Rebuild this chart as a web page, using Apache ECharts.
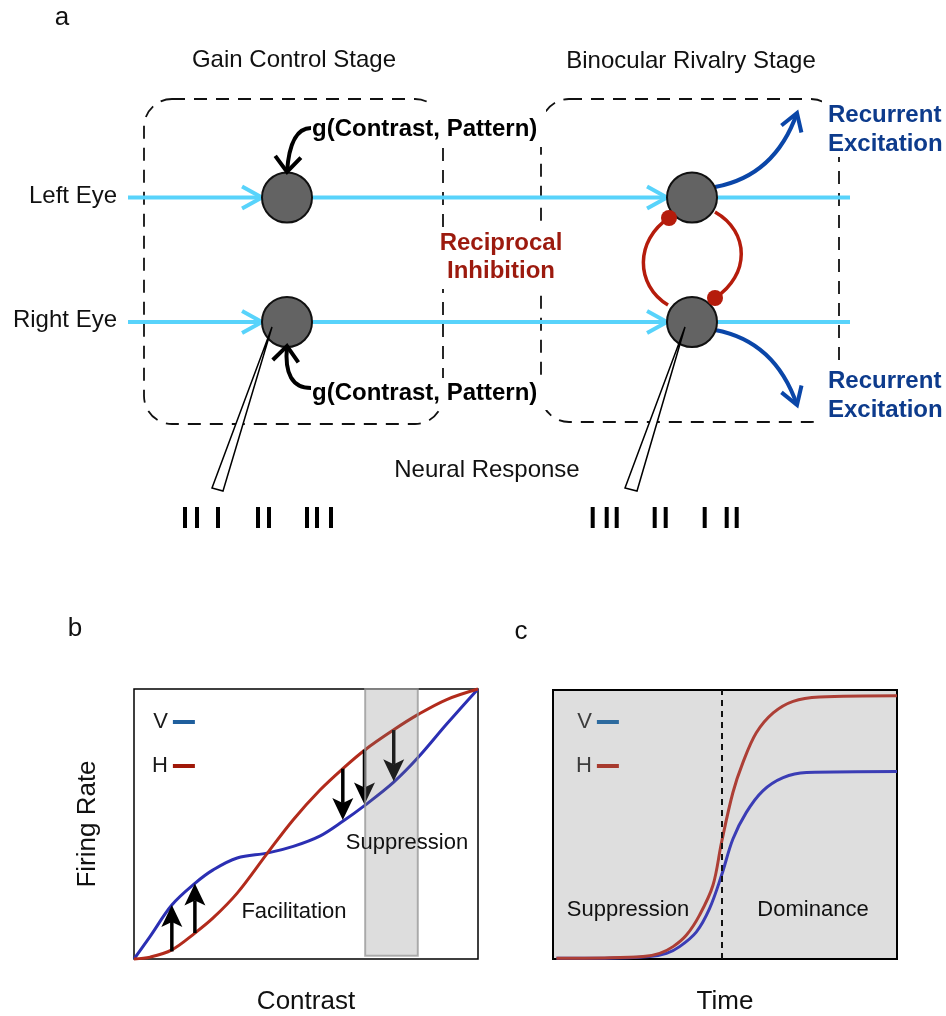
<!DOCTYPE html>
<html>
<head>
<meta charset="utf-8">
<script src="https://cdn.jsdelivr.net/npm/echarts/dist/echarts.min.js"></script>
<style>
  html, body { margin: 0; padding: 0; background: #fff; }
  #chart { width: 946px; height: 1016px; }
</style>
</head>
<body>
<div id="chart"></div>
<script>
// ---- Panel b: steady-state firing rate against contrast ----
const bContrastV = [0, 0.047, 0.11, 0.177, 0.23, 0.30, 0.39, 0.463, 0.54, 0.607, 0.67, 0.755, 0.825, 0.909, 1];
const bRateV     = [0, 0.084, 0.20, 0.28, 0.33, 0.374, 0.393, 0.417, 0.455, 0.51, 0.568, 0.655, 0.745, 0.87, 1];
const bContrastH = [0, 0.047, 0.11, 0.177, 0.23, 0.30, 0.39, 0.463, 0.54, 0.607, 0.672, 0.754, 0.825, 0.909, 1];
const bRateH     = [0, 0.007, 0.034, 0.096, 0.152, 0.244, 0.396, 0.516, 0.625, 0.705, 0.775, 0.848, 0.905, 0.961, 1];

// facilitation (up) and suppression (down) arrows: contrast, start rate, end rate
const bArrowX    = [0.11, 0.177, 0.607, 0.67, 0.755];
const bArrowFrom = [0.028, 0.096, 0.705, 0.775, 0.848];
const bArrowTo   = [0.20, 0.28, 0.515, 0.572, 0.658];

// suppression contrast range: [contrast from, contrast to, rate from, rate to]
const bBand = [0.672, 0.825, 0.012, 1];

// ---- Panel c: firing rate over time ----
const cTimeH = [0.01, 0.15, 0.262, 0.31, 0.349, 0.388, 0.426, 0.465, 0.49, 0.523, 0.552, 0.591, 0.64, 0.698, 0.775, 1];
const cRateH = [0.003, 0.004, 0.009, 0.021, 0.046, 0.089, 0.163, 0.274, 0.434, 0.619, 0.73, 0.841, 0.915, 0.958, 0.974, 0.979];
const cTimeV = [0.01, 0.15, 0.281, 0.33, 0.368, 0.417, 0.455, 0.49, 0.523, 0.562, 0.61, 0.669, 0.737, 1];
const cRateV = [0.003, 0.003, 0.009, 0.021, 0.046, 0.101, 0.187, 0.311, 0.446, 0.545, 0.625, 0.674, 0.693, 0.697];
const cSwitchTime = 0.49;

// ---- Panel a: recorded spike times (ms) ----
const spikesGain    = [0, 12, 33, 73, 84, 122, 132, 146];
const spikesRivalry = [0, 14, 24, 62, 73, 112, 134, 144];

const FONT = "'Liberation Sans', Arial, Helvetica, sans-serif";
const zip = (xs, ys) => xs.map((x, i) => [x, ys[i]]);

function hiddenAxis(gridIndex, min, max, extra) {
  return Object.assign({
    type: 'value', gridIndex, min, max,
    axisLine: { show: false }, axisTick: { show: false },
    axisLabel: { show: false }, splitLine: { show: false }
  }, extra || {});
}

function headPts(tip, dx, dy, len, halfDeg) {
  const a = Math.atan2(dy, dx) + Math.PI;
  const h = halfDeg * Math.PI / 180;
  return [
    [tip[0] + len * Math.cos(a + h), tip[1] + len * Math.sin(a + h)],
    tip,
    [tip[0] + len * Math.cos(a - h), tip[1] + len * Math.sin(a - h)]
  ];
}

function label(text, x, y, size, opts) {
  opts = opts || {};
  return {
    type: 'text', z: opts.z || 20,
    style: {
      text, x, y,
      font: (opts.weight || 'normal') + ' ' + size + 'px ' + FONT,
      fill: opts.color || '#111',
      textAlign: opts.align || 'center',
      textVerticalAlign: 'middle'
    }
  };
}

// ---- schematic of the two-stage model ----
const CYAN = '#58d3fb', CELL = '#636363', INHIB = '#b51c0c', EXC = '#0a46a8';
const rowTop = 197.5, rowBot = 322;
const cellL = 287, cellR = 692, cellRad = 25;
const g = [];

// stage boxes
g.push({ type: 'rect', z: 1, shape: { x: 144, y: 99, width: 299, height: 325, r: 28 },
  style: { fill: 'none', stroke: '#111', lineWidth: 1.8, lineDash: [13, 9] } });
g.push({ type: 'rect', z: 1, shape: { x: 541, y: 99, width: 298, height: 323, r: 28 },
  style: { fill: 'none', stroke: '#111', lineWidth: 1.8, lineDash: [13, 9] } });
// label backing
[[432, 95, 114, 52], [436, 378, 112, 32], [437, 229, 129, 60], [822, 95, 124, 62], [818, 366, 128, 62]]
  .forEach(r => g.push({ type: 'rect', z: 2, shape: { x: r[0], y: r[1], width: r[2], height: r[3] }, style: { fill: '#fff' } }));

// eye input lines
[rowTop, rowBot].forEach(y => {
  g.push({ type: 'polyline', z: 3, shape: { points: [[128, y], [850, y]] }, style: { stroke: CYAN, lineWidth: 4, fill: 'none' } });
  [cellL, cellR].forEach(cx => {
    g.push({ type: 'polyline', z: 4, shape: { points: headPts([cx - cellRad, y], 1, 0, 22.8, 29) },
      style: { stroke: CYAN, lineWidth: 4, fill: 'none', lineJoin: 'miter' } });
  });
});

// reciprocal inhibition loop
g.push({ type: 'bezierCurve', z: 4, shape: { x1: 668, y1: 305, cpx1: 635, cpy1: 285, cpx2: 635, cpy2: 240, x2: 669, y2: 218 },
  style: { stroke: INHIB, lineWidth: 3.5, fill: 'none' } });
g.push({ type: 'bezierCurve', z: 4, shape: { x1: 715, y1: 212, cpx1: 750, cpy1: 232, cpx2: 750, cpy2: 275, x2: 715, y2: 298 },
  style: { stroke: INHIB, lineWidth: 3.5, fill: 'none' } });

// recurrent excitation arrows
g.push({ type: 'bezierCurve', z: 4, shape: { x1: 715, y1: 187, cpx1: 775, cpy1: 176, x2: 797, y2: 113 },
  style: { stroke: EXC, lineWidth: 4, fill: 'none' } });
g.push({ type: 'polyline', z: 6, shape: { points: headPts([797, 113], 22, -63, 20, 32) },
  style: { stroke: EXC, lineWidth: 4, fill: 'none' } });
g.push({ type: 'bezierCurve', z: 4, shape: { x1: 715, y1: 330, cpx1: 775, cpy1: 341, x2: 797, y2: 405 },
  style: { stroke: EXC, lineWidth: 4, fill: 'none' } });
g.push({ type: 'polyline', z: 6, shape: { points: headPts([797, 405], 22, 64, 20, 32) },
  style: { stroke: EXC, lineWidth: 4, fill: 'none' } });

// cells
[[cellL, rowTop], [cellL, rowBot], [cellR, rowTop], [cellR, rowBot]].forEach(c => {
  g.push({ type: 'circle', z: 5, shape: { cx: c[0], cy: c[1], r: cellRad }, style: { fill: CELL, stroke: '#111', lineWidth: 2 } });
});

// inhibitory synapses
[[669, 218], [715, 298]].forEach(p => {
  g.push({ type: 'circle', z: 6, shape: { cx: p[0], cy: p[1], r: 8 }, style: { fill: INHIB } });
});

// gain control inputs
g.push({ type: 'bezierCurve', z: 6, shape: { x1: 311, y1: 128, cpx1: 290, cpy1: 128, x2: 287, y2: 172 },
  style: { stroke: '#000', lineWidth: 4, fill: 'none' } });
g.push({ type: 'polyline', z: 6, shape: { points: headPts([287, 172], -3, 44, 20, 40) },
  style: { stroke: '#000', lineWidth: 4, fill: 'none' } });
g.push({ type: 'bezierCurve', z: 6, shape: { x1: 311, y1: 388, cpx1: 283, cpy1: 388, x2: 287, y2: 346 },
  style: { stroke: '#000', lineWidth: 4, fill: 'none' } });
g.push({ type: 'polyline', z: 6, shape: { points: headPts([287, 346], 4, -42, 20, 40) },
  style: { stroke: '#000', lineWidth: 4, fill: 'none' } });

// recording electrodes
g.push({ type: 'polygon', z: 7, shape: { points: [[272, 327], [212, 488], [223, 491]] },
  style: { fill: '#fff', stroke: '#000', lineWidth: 1.5 } });
g.push({ type: 'polygon', z: 7, shape: { points: [[685, 327], [625, 488], [637, 491]] },
  style: { fill: '#fff', stroke: '#000', lineWidth: 1.5 } });

// text of the schematic
g.push(label('a', 62, 18, 26));
g.push(label('Gain Control Stage', 294, 60, 24));
g.push(label('Binocular Rivalry Stage', 691, 61, 24));
g.push(label('Left Eye', 117, 196, 24, { align: 'right' }));
g.push(label('Right Eye', 117, 320, 24, { align: 'right' }));
g.push(label('g(Contrast, Pattern)', 312, 129, 24, { align: 'left', weight: 'bold', color: '#000' }));
g.push(label('g(Contrast, Pattern)', 312, 393, 24, { align: 'left', weight: 'bold', color: '#000' }));
g.push(label('Reciprocal', 501, 243, 24, { weight: 'bold', color: '#9c1a0e' }));
g.push(label('Inhibition', 501, 271, 24, { weight: 'bold', color: '#9c1a0e' }));
g.push(label('Recurrent', 828, 115, 24, { align: 'left', weight: 'bold', color: '#0d3b8c' }));
g.push(label('Excitation', 828, 144, 24, { align: 'left', weight: 'bold', color: '#0d3b8c' }));
g.push(label('Recurrent', 828, 381, 24, { align: 'left', weight: 'bold', color: '#0d3b8c' }));
g.push(label('Excitation', 828, 410, 24, { align: 'left', weight: 'bold', color: '#0d3b8c' }));
g.push(label('Neural Response', 487, 470, 24));

// panel letters and region annotations
g.push(label('b', 75, 629, 26));
g.push(label('c', 521, 632, 26));
g.push(label('Facilitation', 294, 912, 22));
g.push(label('Suppression', 407, 843, 22));
g.push(label('Suppression', 628, 910, 22));
g.push(label('Dominance', 813, 910, 22));

// ---- custom renderers ----
function renderArrow(params, api) {
  const p0 = api.coord([api.value(0), api.value(1)]);
  const tip = api.coord([api.value(0), api.value(2)]);
  const dir = tip[1] > p0[1] ? 1 : -1;
  const headLen = 22, halfW = 10.5, notch = 5;
  const base = tip[1] - dir * headLen;
  return {
    type: 'group',
    children: [
      { type: 'line', shape: { x1: p0[0], y1: p0[1], x2: tip[0], y2: base + dir * notch },
        style: { stroke: '#000', lineWidth: 3.5 } },
      { type: 'polygon', shape: { points: [[tip[0], tip[1]], [tip[0] - halfW, base], [tip[0], base + dir * notch], [tip[0] + halfW, base]] },
        style: { fill: '#000' } }
    ]
  };
}

function renderBand(params, api) {
  const a = api.coord([api.value(0), api.value(3)]);
  const b = api.coord([api.value(1), api.value(2)]);
  return {
    type: 'rect',
    shape: { x: a[0], y: a[1], width: b[0] - a[0], height: b[1] - a[1] },
    style: { fill: 'rgba(120,120,120,0.25)', stroke: 'rgba(150,150,150,0.75)', lineWidth: 2 }
  };
}

function renderSpike(params, api) {
  const lo = api.coord([api.value(0), 0]);
  const hi = api.coord([api.value(0), 1]);
  return { type: 'rect', shape: { x: lo[0] - 2, y: hi[1], width: 4, height: lo[1] - hi[1] }, style: { fill: '#000' } };
}

const lineBase = { type: 'line', showSymbol: false, smooth: 0.35, clip: false, silent: true };

const option = {
  animation: false,
  textStyle: { fontFamily: FONT },
  grid: [
    { left: 134, top: 689, width: 344, height: 270, show: true, borderColor: '#000', borderWidth: 1.5, backgroundColor: '#fff' },
    { left: 553, top: 690, width: 344, height: 271, show: true, borderColor: '#000', borderWidth: 2, backgroundColor: '#dedede' },
    { left: 185, top: 507, width: 150, height: 21 },
    { left: 592.7, top: 507, width: 150, height: 21 }
  ],
  xAxis: [
    hiddenAxis(0, 0, 1, { name: 'Contrast', nameLocation: 'middle', nameGap: 30, nameTextStyle: { fontSize: 26, color: '#111' } }),
    hiddenAxis(1, 0, 1, { name: 'Time', nameLocation: 'middle', nameGap: 30, nameTextStyle: { fontSize: 26, color: '#111' } }),
    hiddenAxis(2, 0, 150),
    hiddenAxis(3, 0, 150)
  ],
  yAxis: [
    hiddenAxis(0, 0, 1, { name: 'Firing Rate', nameLocation: 'middle', nameGap: 33, nameRotate: 90, nameTextStyle: { fontSize: 26, color: '#111' } }),
    hiddenAxis(1, 0, 1),
    hiddenAxis(2, 0, 1),
    hiddenAxis(3, 0, 1)
  ],
  legend: [
    { left: 152, top: 711, orient: 'vertical', align: 'right', padding: 0, itemGap: 22, itemWidth: 22, itemHeight: 4,
      icon: 'rect', selectedMode: false, textStyle: { fontSize: 22, color: '#1a1a1a' },
      data: [{ name: 'V', itemStyle: { color: '#1f5f9d' } }, { name: 'H', itemStyle: { color: '#a01808' } }] },
    { left: 576, top: 711, orient: 'vertical', align: 'right', padding: 0, itemGap: 22, itemWidth: 22, itemHeight: 4,
      icon: 'rect', selectedMode: false, textStyle: { fontSize: 22, color: '#3c3c3c' },
      data: [{ name: 'V', itemStyle: { color: '#2d6a9e' } }, { name: 'H', itemStyle: { color: '#a73a2e' } }] }
  ],
  series: [
    Object.assign({}, lineBase, { name: 'V', xAxisIndex: 0, yAxisIndex: 0, z: 3, data: zip(bContrastV, bRateV),
      lineStyle: { color: '#2b2fb3', width: 3 }, itemStyle: { color: '#2b2fb3' } }),
    Object.assign({}, lineBase, { name: 'H', xAxisIndex: 0, yAxisIndex: 0, z: 3, data: zip(bContrastH, bRateH),
      lineStyle: { color: '#b22b1c', width: 3 }, itemStyle: { color: '#b22b1c' } }),
    { type: 'custom', name: 'shift', xAxisIndex: 0, yAxisIndex: 0, z: 4, silent: true,
      data: bArrowX.map((x, i) => [x, bArrowFrom[i], bArrowTo[i]]),
      encode: { x: 0, y: [1, 2] }, renderItem: renderArrow },
    { type: 'custom', name: 'band', xAxisIndex: 0, yAxisIndex: 0, z: 6, silent: true,
      data: [bBand], encode: { x: [0, 1], y: [2, 3] }, renderItem: renderBand },
    Object.assign({}, lineBase, { name: 'V', xAxisIndex: 1, yAxisIndex: 1, z: 3, data: zip(cTimeV, cRateV),
      lineStyle: { color: '#3b3db5', width: 3 }, itemStyle: { color: '#3b3db5' } }),
    Object.assign({}, lineBase, { name: 'H', xAxisIndex: 1, yAxisIndex: 1, z: 3, data: zip(cTimeH, cRateH),
      lineStyle: { color: '#ad3f36', width: 3 }, itemStyle: { color: '#ad3f36' },
      markLine: { silent: true, symbol: ['none', 'none'], label: { show: false },
        lineStyle: { color: '#111', type: [6, 5], width: 2 }, data: [{ xAxis: cSwitchTime }] } }),
    { type: 'custom', name: 'spikes gain', xAxisIndex: 2, yAxisIndex: 2, silent: true,
      data: spikesGain.map(t => [t]), encode: { x: 0 }, renderItem: renderSpike },
    { type: 'custom', name: 'spikes rivalry', xAxisIndex: 3, yAxisIndex: 3, silent: true,
      data: spikesRivalry.map(t => [t]), encode: { x: 0 }, renderItem: renderSpike }
  ],
  graphic: { elements: g }
};

const chart = echarts.init(document.getElementById('chart'), null, { renderer: 'canvas' });
chart.setOption(option);
</script>
</body>
</html>
